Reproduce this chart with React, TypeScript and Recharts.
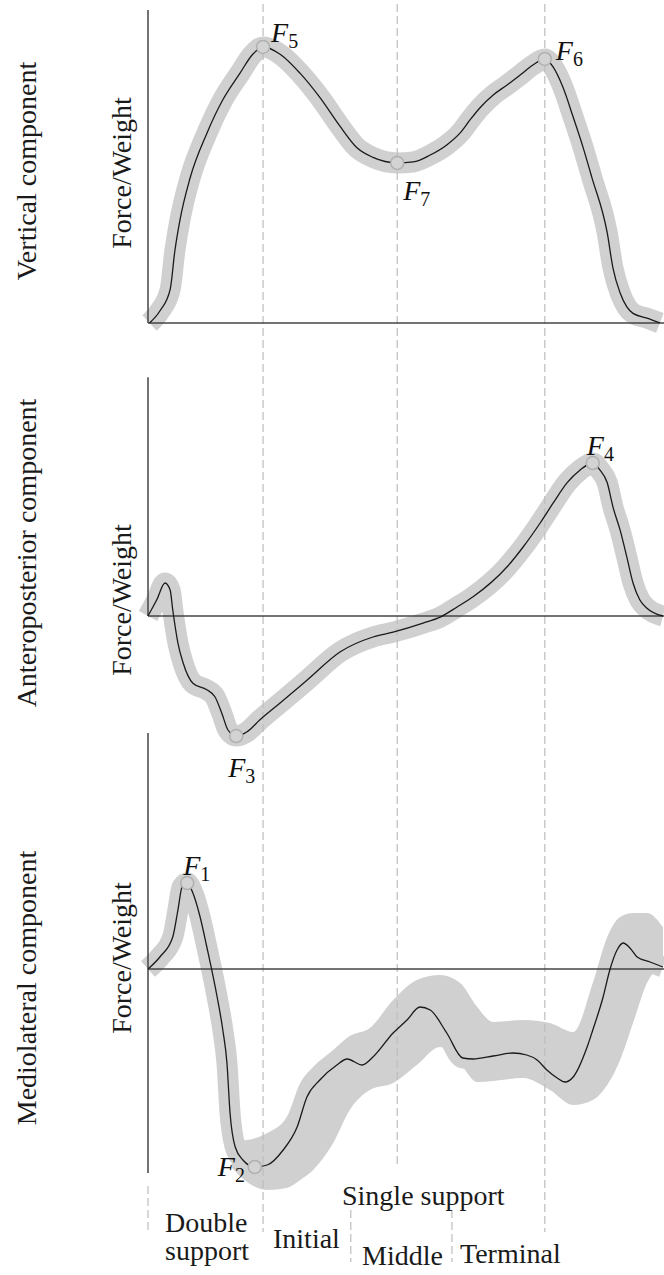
import { Area, ComposedChart, Line, ReferenceDot, ReferenceLine, XAxis, YAxis } from "recharts";

// stance phase, % of cycle
const tVertical = [0.3, 2.3, 4.3, 5.2, 6.2, 8.1, 11.4, 14.5, 17.8, 20.3, 22.3, 25.6, 29.5, 33.3, 37.2, 40.5, 43.6, 48.3, 51.4, 54.7, 57.9, 60.5, 62.4, 64.3, 66.9, 69.6, 72.1, 74.6, 76.9, 78.5, 80.4, 82.4, 84.3, 86.0, 89.0, 90.1, 91.5, 92.8, 94.0, 96.7, 99.2];
const fVertical = [0, 0.05, 0.14, 0.3, 0.43, 0.6, 0.79, 0.93, 1.04, 1.12, 1.15, 1.12, 1.04, 0.94, 0.82, 0.73, 0.69, 0.667, 0.671, 0.7, 0.742, 0.792, 0.846, 0.896, 0.95, 0.992, 1.033, 1.075, 1.1, 1.067, 0.983, 0.858, 0.733, 0.608, 0.375, 0.23, 0.125, 0.067, 0.04, 0.02, 0];

const tAP = [0, 1.7, 3.3, 4.3, 4.8, 5.8, 6.8, 8.7, 11.4, 13.0, 14.3, 15.5, 17.1, 19.2, 21.7, 25.6, 30.8, 37.2, 43.6, 47.5, 53.3, 56.6, 59.9, 63.0, 69.6, 72.7, 76.0, 78.5, 81.2, 83.7, 86.2, 87.6, 89.0, 90.1, 91.5, 92.8, 94.0, 95.3, 96.7, 99.8];
const fAP = [0, 0.027, 0.055, 0.043, 0.01, -0.045, -0.078, -0.112, -0.123, -0.135, -0.162, -0.19, -0.2, -0.193, -0.173, -0.145, -0.107, -0.06, -0.035, -0.027, -0.012, -0.002, 0.015, 0.032, 0.082, 0.115, 0.155, 0.188, 0.222, 0.243, 0.255, 0.243, 0.222, 0.182, 0.143, 0.098, 0.055, 0.027, 0.013, 0];

const tML = [0, 2.3, 4.8, 5.8, 6.6, 7.6, 8.7, 10.1, 11.4, 13.4, 14.5, 15.3, 15.9, 16.9, 18.4, 20.7, 23.1, 26.2, 28.9, 30.8, 33.3, 36.6, 38.6, 41.5, 43.6, 47.5, 50.2, 52.7, 54.7, 57.9, 61.0, 63.0, 66.9, 70.7, 73.4, 75.4, 77.3, 79.3, 80.8, 82.4, 85.1, 86.2, 88.2, 89.5, 90.9, 92.1, 93.4, 94.8, 97.3, 99.8];
const fML = [0, 0.006, 0.016, 0.0295, 0.041, 0.043, 0.038, 0.026, 0.011, -0.014, -0.0305, -0.047, -0.072, -0.089, -0.0955, -0.099, -0.098, -0.0905, -0.079, -0.064, -0.0555, -0.048, -0.045, -0.048, -0.044, -0.032, -0.0255, -0.019, -0.0205, -0.032, -0.0445, -0.045, -0.0435, -0.042, -0.043, -0.0455, -0.0505, -0.0545, -0.0565, -0.054, -0.039, -0.0305, -0.014, -0.0005, 0.0095, 0.013, 0.0105, 0.006, 0.0035, 0.001];

// variability band of the mediolateral curve
const tBand = [16.3, 19.2, 23.1, 26.9, 29.5, 32.0, 35.9, 39.1, 43.0, 47.5, 52.1, 56.6, 60.5, 63.8, 66.9, 72.7, 77.9, 82.4, 86.2, 89.0, 91.5, 94.0, 96.7, 99.8];
const bandHi = [-0.086, -0.0855, -0.082, -0.074, -0.057, -0.049, -0.0405, -0.0335, -0.0295, -0.0155, -0.0055, -0.003, -0.007, -0.019, -0.0265, -0.0255, -0.027, -0.0315, -0.007, 0.016, 0.026, 0.028, 0.028, 0.021];
const bandLo = [-0.0995, -0.1065, -0.1105, -0.1095, -0.1055, -0.1005, -0.087, -0.0705, -0.0605, -0.057, -0.048, -0.039, -0.0475, -0.0565, -0.056, -0.0545, -0.0605, -0.068, -0.0655, -0.058, -0.0455, -0.027, -0.007, 0.002];

// key points F1..F7
const keyNames = ["1", "2", "3", "4", "5", "6", "7"];
const keyAxis = ["ml", "ml", "ap", "ap", "vert", "vert", "vert"];
const keyT = [7.6, 20.7, 17.1, 86.2, 22.3, 76.9, 48.3];
const keyF = [0.043, -0.099, -0.2, 0.255, 1.15, 1.1, 0.667];

// phase boundaries
const phaseT = [22.3, 48.3, 76.9];
const subPhaseT = [39.3, 58.9];

const W = 664;
const H = 1275;
const GRAY = "#d0d0d0";
const DASH = "#bdbdbd";
const FONT = '"Liberation Serif", "Times New Roman", serif';

const VERT_DOMAIN = [-3.9667, 1.3458];
const AP_DOMAIN = [-1.09833, 1.02667];
const ML_DOMAIN = [-0.153, 0.4845];
// page row -> value on the vertical-force axis (used for the guide lines)
const rowY = (py: number) => VERT_DOMAIN[1] - (py / H) * (VERT_DOMAIN[1] - VERT_DOMAIN[0]);

const toRows = (ts: number[], fs: number[]) => ts.map((t, i) => ({ t, f: fs[i] }));
const vertRows = toRows(tVertical, fVertical);
const apRows = toRows(tAP, fAP);
const mlRows = toRows(tML, fML);
const bandRows = tBand.map((t, i) => ({ t, band: [bandLo[i], bandHi[i]] }));

// label offsets from the dot centre
const labelOffset: Record<string, [number, number]> = {
  "1": [-4, -8],
  "2": [-37, 9],
  "3": [-8, 41],
  "4": [-6, -8],
  "5": [8, -5],
  "6": [11, 1],
  "7": [6, 37],
};

const keyShape = (name: string) => (p: any) => {
  const [dx, dy] = labelOffset[name];
  return (
    <g>
      <circle cx={p.cx} cy={p.cy} r={6.5} fill="#d3d3d3" stroke="#b0b0b0" strokeWidth={1.5} />
      <text x={p.cx + dx} y={p.cy + dy} fontFamily={FONT} fontSize={28} fill="#111">
        <tspan fontStyle="italic">F</tspan>
        <tspan fontSize={20} dy={6}>{name}</tspan>
      </text>
    </g>
  );
};

const Txt = ({ x, base, children }: any) => (
  <div style={{ position: "absolute", left: x, top: base - 23.5, fontFamily: FONT, fontSize: 28, lineHeight: "28px", whiteSpace: "nowrap", color: "#1a1a1a" }}>
    {children}
  </div>
);

const VTxt = ({ base, cy, children }: any) => (
  <div style={{ position: "absolute", left: base - 9.5, top: cy, transform: "translate(-50%, -50%) rotate(-90deg)", fontFamily: FONT, fontSize: 28, lineHeight: "28px", whiteSpace: "nowrap", color: "#1a1a1a" }}>
    {children}
  </div>
);

const dashed = { stroke: DASH, strokeWidth: 1.2, strokeDasharray: "8 4" };
const axisLine = { stroke: "#444", strokeWidth: 1.5 };

export default function App() {
  return (
    <div style={{ position: "absolute", left: 0, top: 0, width: W, height: H, background: "#fff" }}>
      <ComposedChart width={W} height={H} margin={{ top: 0, right: 0, bottom: 0, left: 148 }}>
        <XAxis type="number" dataKey="t" domain={[0, 100]} hide />
        <YAxis yAxisId="vert" type="number" domain={VERT_DOMAIN} hide />
        <YAxis yAxisId="ap" type="number" domain={AP_DOMAIN} hide />
        <YAxis yAxisId="ml" type="number" domain={ML_DOMAIN} hide />

        <Area yAxisId="ml" data={bandRows} dataKey="band" type="monotone" stroke="none" fill={GRAY} fillOpacity={1} isAnimationActive={false} />
        <Line yAxisId="vert" data={vertRows} dataKey="f" type="monotone" stroke={GRAY} strokeWidth={21} dot={false} activeDot={false} isAnimationActive={false} />
        <Line yAxisId="ap" data={apRows} dataKey="f" type="monotone" stroke={GRAY} strokeWidth={21} dot={false} activeDot={false} isAnimationActive={false} />
        <Line yAxisId="ml" data={mlRows} dataKey="f" type="monotone" stroke={GRAY} strokeWidth={21} dot={false} activeDot={false} isAnimationActive={false} />

        {phaseT.map((t, i) => (
          <ReferenceLine key={`ph-${i}`} yAxisId="vert" segment={[{ x: t, y: rowY(4) }, { x: t, y: rowY(i === 1 ? 1167 : 1232) }]} {...dashed} />
        ))}
        <ReferenceLine yAxisId="vert" segment={[{ x: 0, y: rowY(1186) }, { x: 0, y: rowY(1234) }]} {...dashed} />
        {subPhaseT.map((t, i) => (
          <ReferenceLine key={`sp-${i}`} yAxisId="vert" segment={[{ x: t, y: rowY(1210) }, { x: t, y: rowY(1262) }]} {...dashed} />
        ))}

        <ReferenceLine yAxisId="vert" y={0} {...axisLine} />
        <ReferenceLine yAxisId="ap" y={0} {...axisLine} />
        <ReferenceLine yAxisId="ml" y={0} {...axisLine} />
        <ReferenceLine yAxisId="vert" segment={[{ x: 0, y: 0 }, { x: 0, y: 1.304 }]} {...axisLine} />
        <ReferenceLine yAxisId="ap" segment={[{ x: 0, y: 0 }, { x: 0, y: 0.398 }]} {...axisLine} />
        <ReferenceLine yAxisId="ml" segment={[{ x: 0, y: -0.102 }, { x: 0, y: 0.118 }]} {...axisLine} />

        <Line yAxisId="vert" data={vertRows} dataKey="f" type="monotone" stroke="#1a1a1a" strokeWidth={1.3} dot={false} activeDot={false} isAnimationActive={false} />
        <Line yAxisId="ap" data={apRows} dataKey="f" type="monotone" stroke="#1a1a1a" strokeWidth={1.3} dot={false} activeDot={false} isAnimationActive={false} />
        <Line yAxisId="ml" data={mlRows} dataKey="f" type="monotone" stroke="#1a1a1a" strokeWidth={1.3} dot={false} activeDot={false} isAnimationActive={false} />

        {keyNames.map((n, i) => (
          <ReferenceDot key={n} yAxisId={keyAxis[i]} x={keyT[i]} y={keyF[i]} r={6.5} shape={keyShape(n)} />
        ))}
      </ComposedChart>

      <VTxt base={36} cy={171}>Vertical component</VTxt>
      <VTxt base={131} cy={173}>Force/Weight</VTxt>
      <VTxt base={36} cy={553}>Anteroposterior component</VTxt>
      <VTxt base={131} cy={600}>Force/Weight</VTxt>
      <VTxt base={36} cy={988}>Mediolateral component</VTxt>
      <VTxt base={131} cy={958}>Force/Weight</VTxt>

      <Txt x={165} base={1232}>Double</Txt>
      <Txt x={165} base={1260}>support</Txt>
      <Txt x={273} base={1248}>Initial</Txt>
      <Txt x={342} base={1205}>Single support</Txt>
      <Txt x={362} base={1265}>Middle</Txt>
      <Txt x={460} base={1263}>Terminal</Txt>
    </div>
  );
}
